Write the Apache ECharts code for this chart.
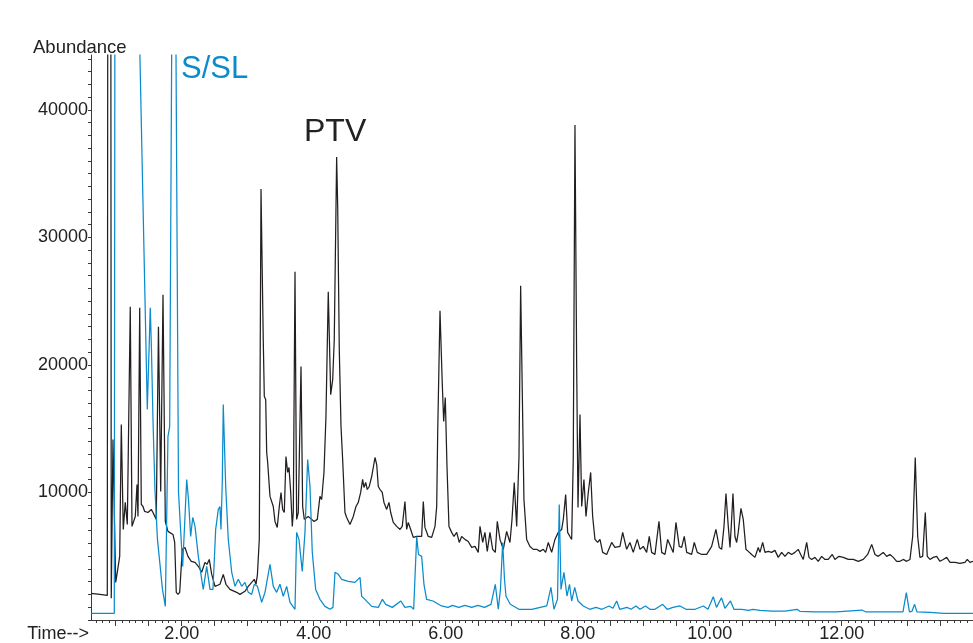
<!DOCTYPE html>
<html>
<head>
<meta charset="utf-8">
<script src="https://cdn.jsdelivr.net/npm/echarts@6/dist/echarts.min.js"></script>
<style>
html,body{margin:0;padding:0;background:#fff;}
#c{width:973px;height:643px;}
</style>
</head>
<body>
<div id="c"></div>
<script>
// ---- axis labels ----
var xLabelValues = [2, 4, 6, 8, 10, 12];
var yLabelValues = [10000, 20000, 30000, 40000];
var xMin = 0.626, xMax = 13.99;
var yMin = 0, yMax = 44300;

// ---- PTV (black) trace: retention time (min) ----
var ptvTime = [0.626,0.762,0.873,0.886,0.921,0.933,0.959,1.000,1.024,1.061,1.085,1.115,1.145,1.176,1.197,1.221,1.247,1.273,1.297,1.323,1.338,1.364,1.388,1.414,1.439,1.489,1.539,1.565,1.591,1.615,1.648,1.682,1.717,1.752,1.792,1.818,1.868,1.894,1.918,1.944,1.970,2.009,2.050,2.095,2.145,2.202,2.252,2.303,2.353,2.383,2.418,2.455,2.505,2.580,2.630,2.671,2.732,2.833,2.883,2.959,3.009,3.061,3.100,3.126,3.148,3.176,3.202,3.236,3.252,3.273,3.288,3.303,3.338,3.364,3.388,3.414,3.448,3.479,3.505,3.530,3.555,3.580,3.606,3.626,3.652,3.676,3.691,3.717,3.742,3.767,3.792,3.808,3.833,3.858,3.918,3.970,4.005,4.055,4.095,4.121,4.156,4.186,4.221,4.258,4.288,4.312,4.348,4.364,4.388,4.414,4.439,4.474,4.500,4.550,4.600,4.641,4.676,4.712,4.742,4.762,4.788,4.812,4.842,4.879,4.929,4.955,4.979,5.005,5.039,5.065,5.106,5.141,5.167,5.206,5.258,5.308,5.342,5.383,5.409,5.433,5.470,5.509,5.561,5.636,5.661,5.686,5.736,5.788,5.838,5.864,5.879,5.914,5.948,5.970,5.994,6.020,6.050,6.091,6.126,6.167,6.206,6.242,6.292,6.342,6.394,6.444,6.494,6.520,6.561,6.595,6.630,6.671,6.712,6.752,6.782,6.823,6.873,6.924,6.974,7.005,7.039,7.076,7.111,7.136,7.161,7.186,7.227,7.277,7.327,7.379,7.429,7.479,7.515,7.555,7.606,7.656,7.706,7.758,7.782,7.818,7.848,7.883,7.909,7.933,7.959,7.985,8.005,8.035,8.061,8.095,8.126,8.161,8.197,8.227,8.262,8.303,8.338,8.379,8.439,8.515,8.565,8.641,8.682,8.742,8.792,8.842,8.903,8.944,8.994,9.045,9.085,9.121,9.171,9.232,9.273,9.323,9.364,9.409,9.448,9.489,9.539,9.576,9.615,9.652,9.727,9.767,9.812,9.879,9.955,10.030,10.095,10.145,10.182,10.217,10.247,10.282,10.308,10.327,10.353,10.383,10.409,10.433,10.474,10.509,10.550,10.585,10.636,10.686,10.736,10.762,10.803,10.838,10.888,10.939,10.989,11.039,11.091,11.141,11.191,11.242,11.292,11.342,11.379,11.418,11.470,11.505,11.545,11.595,11.645,11.697,11.747,11.797,11.858,11.898,11.959,12.024,12.100,12.176,12.252,12.327,12.394,12.455,12.505,12.555,12.630,12.682,12.732,12.782,12.833,12.883,12.933,12.985,13.035,13.076,13.115,13.152,13.186,13.227,13.267,13.297,13.338,13.388,13.439,13.489,13.539,13.591,13.641,13.717,13.792,13.868,13.903,13.944,13.989];
// ---- PTV (black) trace: abundance ----
var ptvAbund = [2090,2010,1930,90000,90000,1700,14150,2950,3740,4990,15320,7100,9220,7490,7340,24560,7340,7340,8120,10630,8120,24480,9060,8900,8510,8430,8670,8430,8280,7890,23000,10080,25500,7730,6950,6950,6710,6080,2170,2010,2170,5540,5690,4990,4600,4520,4210,3740,4520,4360,4750,3580,2640,2800,3580,2800,2400,2170,2010,2250,2640,2950,3190,2800,3580,6320,33800,21980,17520,17280,13130,12350,9690,9690,8900,7730,7260,8900,10000,8670,8430,12820,11570,11960,10000,7340,8430,27300,7890,8430,8430,19870,8900,7890,8120,7890,7730,7890,9690,9450,11570,15950,25740,17670,18850,21980,36310,32390,21200,15170,12580,8430,8040,7490,8120,8900,9220,10000,11020,10390,10780,10230,10470,11250,12740,12190,10470,10230,10000,9220,8670,9220,8430,7650,7340,7100,7340,9290,7100,7650,7100,6480,6550,6550,9290,7260,6550,6480,7340,8900,14700,24250,18610,15560,17440,12030,7340,6870,6550,6870,6080,6550,6320,6160,5690,5770,5300,7340,6080,6870,5380,6870,5540,5300,7730,6320,5540,6950,6080,7890,10780,7340,12820,26210,17830,9450,6320,5770,5540,5540,5380,5540,5300,6080,5300,6320,6870,7100,7890,9840,6870,6550,6320,12580,38810,19870,8820,16110,8900,11020,8120,10000,11570,8120,6320,6080,6320,5300,5140,6080,5690,5770,6870,5540,6080,5300,6320,5540,5770,5300,6550,5300,5140,7730,5300,5140,6320,5770,5300,7650,5770,5690,6550,5300,5140,6080,5300,5140,5140,5770,7100,5690,5540,7340,9920,7340,5690,7340,9920,6550,6080,6870,8750,7890,5540,5380,5140,4910,5690,5300,6080,5300,5380,5300,5460,4910,5300,4990,5300,5140,5300,5540,5140,4750,6080,4910,4750,4910,4600,4990,4750,4750,5140,4750,4990,4910,4750,4750,4600,4750,5140,5930,5140,4990,5300,4990,5140,4910,4600,4600,4750,4600,4750,6550,12740,6550,4910,4990,8430,4990,4750,4910,4990,4600,4750,4910,4520,4520,4440,4520,4750,4520,4600];

// ---- S/SL (blue) trace: retention time (min) ----
var sslTime = [0.626,0.979,0.994,1.200,1.360,1.479,1.524,1.542,1.565,1.595,1.633,1.671,1.709,1.752,1.792,1.818,1.880,1.952,2.015,2.076,2.103,2.136,2.167,2.202,2.252,2.303,2.327,2.379,2.429,2.474,2.515,2.555,2.580,2.595,2.615,2.630,2.667,2.706,2.758,2.808,2.858,2.909,2.959,3.009,3.061,3.100,3.148,3.212,3.262,3.338,3.388,3.439,3.489,3.539,3.591,3.641,3.717,3.742,3.777,3.827,3.868,3.909,3.944,3.979,4.030,4.095,4.171,4.247,4.292,4.323,4.373,4.424,4.524,4.626,4.702,4.727,4.777,4.879,4.979,5.041,5.092,5.191,5.321,5.383,5.470,5.515,5.561,5.588,5.636,5.671,5.711,5.808,5.938,6.035,6.102,6.198,6.292,6.394,6.489,6.588,6.686,6.752,6.797,6.830,6.864,6.891,6.914,6.979,7.109,7.305,7.433,7.532,7.595,7.641,7.694,7.721,7.747,7.792,7.838,7.876,7.909,7.955,8.005,8.085,8.182,8.277,8.368,8.474,8.535,8.591,8.636,8.747,8.808,8.883,8.944,9.027,9.095,9.171,9.288,9.356,9.444,9.550,9.641,9.780,9.905,9.974,10.055,10.103,10.179,10.232,10.315,10.368,10.489,10.588,10.656,10.762,10.944,11.141,11.323,11.367,11.595,11.921,12.308,12.368,12.580,12.808,12.929,12.980,13.027,13.065,13.105,13.141,13.338,13.547,13.989];
// ---- S/SL (blue) trace: abundance ----
var sslAbund = [525,525,80000,90000,46000,16500,24480,21200,15720,10230,6320,4360,2400,1070,14380,15170,75000,10000,4200,11020,9450,6550,8040,7340,4990,3190,2400,4200,2400,2400,7100,8670,8900,7100,10780,16890,10470,6320,3740,2640,3190,2640,2950,2170,2010,2800,2640,1390,2170,4360,2640,2170,2800,1860,2640,1390,840,6870,6320,3810,6870,12580,10470,5300,2400,1620,1070,840,990,3740,3580,3190,3030,2950,3340,1860,1620,1070,990,1620,1230,990,1490,990,1070,840,6550,5140,4990,2800,1620,1490,1100,990,1150,990,1150,990,1150,990,1230,2800,840,2400,6080,3190,1860,1230,840,840,990,1100,2560,840,1620,9060,2400,3740,1880,2800,1490,2560,1490,1100,840,990,840,1100,920,1490,840,990,840,1100,840,1100,840,840,1230,840,990,1100,840,840,1100,840,1830,990,1750,920,1490,840,840,760,840,760,700,700,840,680,630,630,780,630,630,630,630,2150,630,680,1230,630,600,525,525];

function pairs(t, v) { var out = []; for (var i = 0; i < t.length; i++) out.push([t[i], v[i]]); return out; }

// tick positions
var xMajorTicks = [], xMinorTicks = [], yTicks = [];
for (var k = 7; k <= 139; k++) { var tv = k / 10; if (k % 5 === 0) xMajorTicks.push(tv); else xMinorTicks.push(tv); }
for (var j = 0; j <= 44; j++) yTicks.push(j * 1000);

var FONT = "'Liberation Sans', Arial, Helvetica, sans-serif";
var AXIS_COLOR = '#3a3a3a';
var TEXT_COLOR = '#222222';
var BLACK = '#231f20';
var BLUE = '#0a8bcc';

var chart = echarts.init(document.getElementById('c'), null, {renderer: 'canvas'});
chart.setOption({
  animation: false,
  backgroundColor: '#ffffff',
  grid: {left: 91, top: 55, right: 0, bottom: 23, containLabel: false},
  xAxis: [
    {
      type: 'value', min: xMin, max: xMax, position: 'bottom',
      axisLine: {show: true, onZero: false, lineStyle: {color: AXIS_COLOR, width: 1}},
      axisTick: {show: true, customValues: xMajorTicks, length: 6, lineStyle: {color: AXIS_COLOR, width: 1}},
      axisLabel: {show: true, customValues: xLabelValues, margin: 5, color: TEXT_COLOR, fontSize: 18, fontFamily: FONT,
        formatter: function (v) { return Number(v).toFixed(2); }},
      splitLine: {show: false}
    },
    {
      type: 'value', min: xMin, max: xMax, position: 'bottom', offset: 0,
      axisLine: {show: false, onZero: false},
      axisTick: {show: true, customValues: xMinorTicks, length: 3, lineStyle: {color: AXIS_COLOR, width: 1}},
      axisLabel: {show: false},
      splitLine: {show: false}
    }
  ],
  yAxis: {
    type: 'value', min: yMin, max: yMax,
    axisLine: {show: true, onZero: false, lineStyle: {color: AXIS_COLOR, width: 1}},
    axisTick: {show: true, customValues: yTicks, length: 3, lineStyle: {color: AXIS_COLOR, width: 1}},
    axisLabel: {show: true, customValues: yLabelValues, margin: 3, color: TEXT_COLOR, fontSize: 18, fontFamily: FONT,
      formatter: function (v) { return String(Math.round(v)); }},
    splitLine: {show: false}
  },
  series: [
    {
      name: 'PTV', type: 'line', xAxisIndex: 0, data: pairs(ptvTime, ptvAbund),
      showSymbol: false, clip: true, smooth: false,
      lineStyle: {color: BLACK, width: 1.25}, z: 2
    },
    {
      name: 'S/SL', type: 'line', xAxisIndex: 0, data: pairs(sslTime, sslAbund),
      showSymbol: false, clip: true, smooth: false,
      lineStyle: {color: BLUE, width: 1.25}, z: 3
    }
  ],
  graphic: [
    {type: 'text', x: 33, y: 48, style: {text: 'Abundance', font: '18.5px ' + FONT, fill: TEXT_COLOR, textAlign: 'left', textVerticalAlign: 'middle'}},
    {type: 'text', x: 181, y: 69, style: {text: 'S/SL', font: '31px ' + FONT, fill: BLUE, textAlign: 'left', textVerticalAlign: 'middle'}},
    {type: 'text', x: 304, y: 132, style: {text: 'PTV', font: '32px ' + FONT, fill: TEXT_COLOR, textAlign: 'left', textVerticalAlign: 'middle'}},
    {type: 'text', x: 89, y: 634, style: {text: 'Time-->', font: '18px ' + FONT, fill: TEXT_COLOR, textAlign: 'right', textVerticalAlign: 'middle'}}
  ]
});
</script>
</body>
</html>
